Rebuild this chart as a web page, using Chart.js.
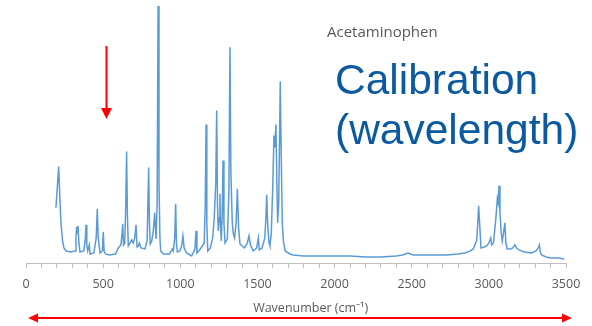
<!DOCTYPE html>
<html lang="en">
<head>
<meta charset="UTF-8">
<title>Acetaminophen spectrum</title>
<script src="https://cdn.jsdelivr.net/npm/chart.js"></script>
<style>
    body {
        margin: 0;
        background: #ffffff;
    }
    .wrap {
        position: relative;
        width: 592px;
        height: 326px;
    }
    .sample {
        position: absolute;
        left: 327px;
        top: 24px;
        font-family: "Open Sans", sans-serif;
        font-size: 15px;
        line-height: 15px;
        color: #595959;
    }
    .big {
        position: absolute;
        left: 335px;
        top: 55px;
        font-family: "Liberation Sans", Arial, sans-serif;
        font-size: 42.5px;
        line-height: 50px;
        color: #0b5aa0;
    }
</style>
</head>
<body>
<div class="wrap">
    <canvas id="spectrum" width="592" height="326"></canvas>
    <div class="sample">Acetaminophen</div>
    <div class="big">Calibration<br>(wavelength)</div>
</div>

<script>
// wavenumber (cm-1) and intensity
const wavenumbers = [
    194, 212, 220, 227, 237, 246, 260, 290, 318, 324, 328, 332, 337, 343, 350,
    375, 385, 389, 394, 400, 410, 415, 440, 455, 462, 468, 480, 495, 501, 506,
    515, 540, 580, 598, 615, 622, 627, 632, 640, 647, 652, 657, 663, 675, 685,
    695, 705, 713, 720, 728, 735, 745, 771, 785, 795, 800, 805, 815, 825, 834,
    843, 850, 856, 862, 868, 873, 890, 930, 948, 955, 964, 970, 975, 981, 998,
    1010, 1017, 1025, 1041, 1074, 1095, 1102, 1108, 1130, 1155, 1162, 1167, 1172, 1178, 1195,
    1210, 1220, 1230, 1236, 1241, 1246, 1252, 1257, 1261, 1266, 1272, 1277, 1283, 1290, 1305,
    1315, 1322, 1328, 1337, 1344, 1352, 1362, 1370, 1378, 1387, 1415, 1435, 1445, 1455, 1473,
    1495, 1506, 1512, 1530, 1548, 1555, 1560, 1566, 1575, 1581, 1590, 1600, 1607, 1612, 1620,
    1626, 1631, 1638, 1643, 1648, 1654, 1661, 1668, 1680, 1711, 1730, 1800, 1900, 2000, 2100,
    2200, 2300, 2400, 2440, 2476, 2510, 2600, 2727, 2800, 2845, 2880, 2899, 2915, 2921, 2928,
    2934, 2940, 2949, 2970, 2986, 3000, 3012, 3018, 3030, 3044, 3055, 3060, 3066, 3072, 3080,
    3087, 3095, 3104, 3110, 3119, 3140, 3155, 3169, 3180, 3195, 3230, 3277, 3305, 3320, 3327,
    3335, 3342, 3370, 3405, 3450, 3489
];
const intensity = [
    55, 96, 62, 39, 22, 15, 12, 11, 12, 25, 36, 30, 37, 20, 11,
    12, 25, 38, 18, 12, 18, 9, 10, 25, 54, 25, 10, 12, 31, 12,
    9, 8, 9, 15, 18, 28, 39, 18, 20, 60, 111, 50, 17, 20, 23,
    20, 25, 38, 16, 17, 20, 15, 14, 22, 95, 40, 19, 22, 32, 50,
    24, 60, 256, 80, 25, 12, 9, 9, 14, 12, 25, 59, 20, 11, 12,
    18, 27, 15, 10, 7, 14, 32, 10, 14, 20, 60, 138, 40, 12, 15,
    25, 45, 80, 152, 60, 32, 45, 69, 35, 22, 50, 102, 40, 20, 24,
    70, 215, 90, 40, 29, 25, 40, 74, 35, 19, 15, 20, 27, 18, 12,
    15, 25, 13, 15, 25, 45, 68, 40, 20, 17, 30, 80, 127, 115, 138,
    80, 40, 60, 120, 181, 110, 40, 22, 12, 9, 8, 7, 7, 7, 7,
    6, 6, 7, 8, 10, 8, 8, 8, 9, 10, 12, 14, 20, 22, 40,
    57, 40, 15, 16, 17, 20, 25, 18, 20, 42, 64, 60, 77, 50, 30,
    22, 30, 40, 20, 14, 14, 15, 18, 15, 13, 11, 10, 12, 15, 18,
    10, 8, 6, 5, 5, 4
];
const xMin = 0;
const xMax = 3500;
const labelStep = 500;
const arrowAt = 518; // red marker above the 500 cm-1 region

const points = wavenumbers.map((w, i) => ({ x: w, y: intensity[i] }));

// red arrows drawn on top of the chart
const arrows = {
    id: 'arrows',
    afterDraw(chart) {
        const ctx = chart.ctx;
        const xs = chart.scales.x;
        ctx.save();
        ctx.strokeStyle = '#ff0000';
        ctx.fillStyle = '#ff0000';
        ctx.lineWidth = 2;

        // down arrow
        const ax = Math.round(xs.getPixelForValue(arrowAt)) + 0.5;
        ctx.beginPath();
        ctx.moveTo(ax, 46);
        ctx.lineTo(ax, 110);
        ctx.stroke();
        ctx.beginPath();
        ctx.moveTo(ax - 5.5, 108);
        ctx.lineTo(ax + 5.5, 108);
        ctx.lineTo(ax, 119);
        ctx.closePath();
        ctx.fill();

        // double arrow under the axis title
        const y = 318;
        const x1 = xs.left + 2;
        const x2 = xs.right + 6;
        ctx.beginPath();
        ctx.moveTo(x1 + 8, y);
        ctx.lineTo(x2 - 8, y);
        ctx.stroke();
        ctx.beginPath();
        ctx.moveTo(x1, y);
        ctx.lineTo(x1 + 10, y - 4.5);
        ctx.lineTo(x1 + 10, y + 4.5);
        ctx.closePath();
        ctx.fill();
        ctx.beginPath();
        ctx.moveTo(x2, y);
        ctx.lineTo(x2 - 10, y - 4.5);
        ctx.lineTo(x2 - 10, y + 4.5);
        ctx.closePath();
        ctx.fill();
        ctx.restore();
    }
};

new Chart(document.getElementById('spectrum'), {
    type: 'line',
    data: {
        datasets: [{
            data: points,
            borderColor: '#5b9bd5',
            borderWidth: 1.5,
            pointRadius: 0,
            tension: 0,
            fill: false
        }]
    },
    options: {
        responsive: false,
        animation: false,
        layout: {
            padding: { left: 26, right: 26, top: 2, bottom: 6 }
        },
        plugins: {
            legend: { display: false },
            tooltip: { enabled: false }
        },
        scales: {
            x: {
                type: 'linear',
                min: xMin,
                max: xMax,
                border: { color: '#bfbfbf', width: 1 },
                grid: {
                    drawOnChartArea: false,
                    drawTicks: true,
                    tickLength: 5,
                    color: '#bfbfbf'
                },
                ticks: {
                    stepSize: 100,
                    autoSkip: false,
                    maxRotation: 0,
                    padding: 9,
                    color: '#595959',
                    font: { family: 'Open Sans', size: 12.5 },
                    callback: v => (v % labelStep === 0 ? v : '')
                },
                title: {
                    display: true,
                    // leading spaces push the title a little right of centre, as in the picture
                    text: '         Wavenumber (cm⁻¹)',
                    color: '#595959',
                    font: { family: 'Open Sans', size: 12.5 },
                    padding: { top: 0, bottom: 4 }
                }
            },
            y: {
                display: false,
                min: 0,
                max: 260
            }
        }
    },
    plugins: [arrows]
});
</script>
</body>
</html>
